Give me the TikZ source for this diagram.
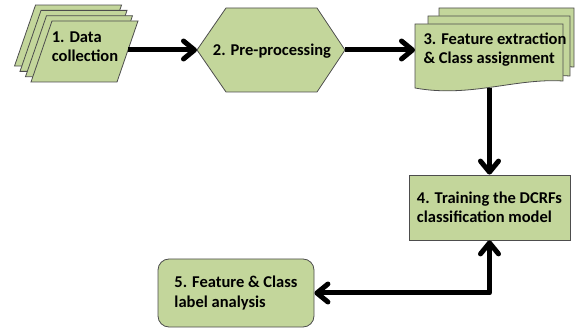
\documentclass[tikz,border=0pt]{standalone}
\usepackage{fontspec}
\setmainfont{Carlito}
\usetikzlibrary{arrows.meta}
\definecolor{boxgreen}{HTML}{C3D69B}
\definecolor{edgegray}{HTML}{4D4D4D}

\begin{document}
\begin{tikzpicture}[x=1pt,y=-1pt,
  shapefill/.style={fill=boxgreen,draw=edgegray,line width=0.8pt},
  caption/.style={font=\fontsize{16.5}{19.5}\selectfont\bfseries,align=left,inner sep=0pt},
  barb/.tip={Straight Barb[length=11pt,width=18pt,round]},
  flow/.style={line width=5pt,line join=round,-barb},
  twoway/.style={line width=5pt,line join=round,barb-barb}
]
\useasboundingbox (0,0) rectangle (575,328);

% stack of data sheets (back to front)
\foreach \k in {3,2,1,0} {
  \draw[shapefill,shift={(-5.5*\k,-5.3*\k)}]
    (52,21) -- (138,21) -- (117,82) -- (31,82) -- cycle;
}
\node[caption] (collect) at (85,46.5) {1. Data\\collection};

% pre-processing hexagon
\draw[shapefill] (197,50) -- (226,8) -- (317,8) -- (345,50) -- (317,92) -- (226,92) -- cycle;
\node[caption] (prep) at (272,51.5) {2. Pre-processing};

% stack of documents (back to front)
\draw[shapefill] (439,8) -- (574,8) -- (574,67)
  .. controls (530,64) and (485,84) .. (439,74) -- cycle;
\draw[shapefill] (428,16) -- (570,16) -- (570,76)
  .. controls (523,73) and (478,93) .. (428,83) -- cycle;
\draw[shapefill] (415,24) -- (563,24) -- (563,81)
  .. controls (515,78) and (470,98) .. (415,88) -- cycle;
\node[caption] (extract) at (495,49.5) {3. Feature extraction\\\& Class assignment};

% model training and analysis boxes
\node[shapefill,caption,minimum width=161pt,minimum height=65pt] (train)
  at (489.5,207.5) {4. Training the DCRFs\\classification model};
\node[shapefill,caption,rounded corners=11pt,minimum width=156pt,minimum height=68pt] (analysis)
  at (236,293) {5. Feature \& Class\\label analysis};

% connection points on the drawn shapes
\coordinate (collect-out) at (128,50);
\coordinate (prep-in) at (197,50);
\coordinate (prep-out) at (345,50);
\coordinate (extract-in) at (415,50);
\coordinate (extract-out) at (489.5,88);

% flow arrows
\draw[flow] (collect-out) -- (prep-in);
\draw[flow] (prep-out) -- (extract-in);
\draw[flow] (extract-out) -- (train.north);
\draw[twoway] (train.south) |- (analysis.east);
\end{tikzpicture}
\end{document}
